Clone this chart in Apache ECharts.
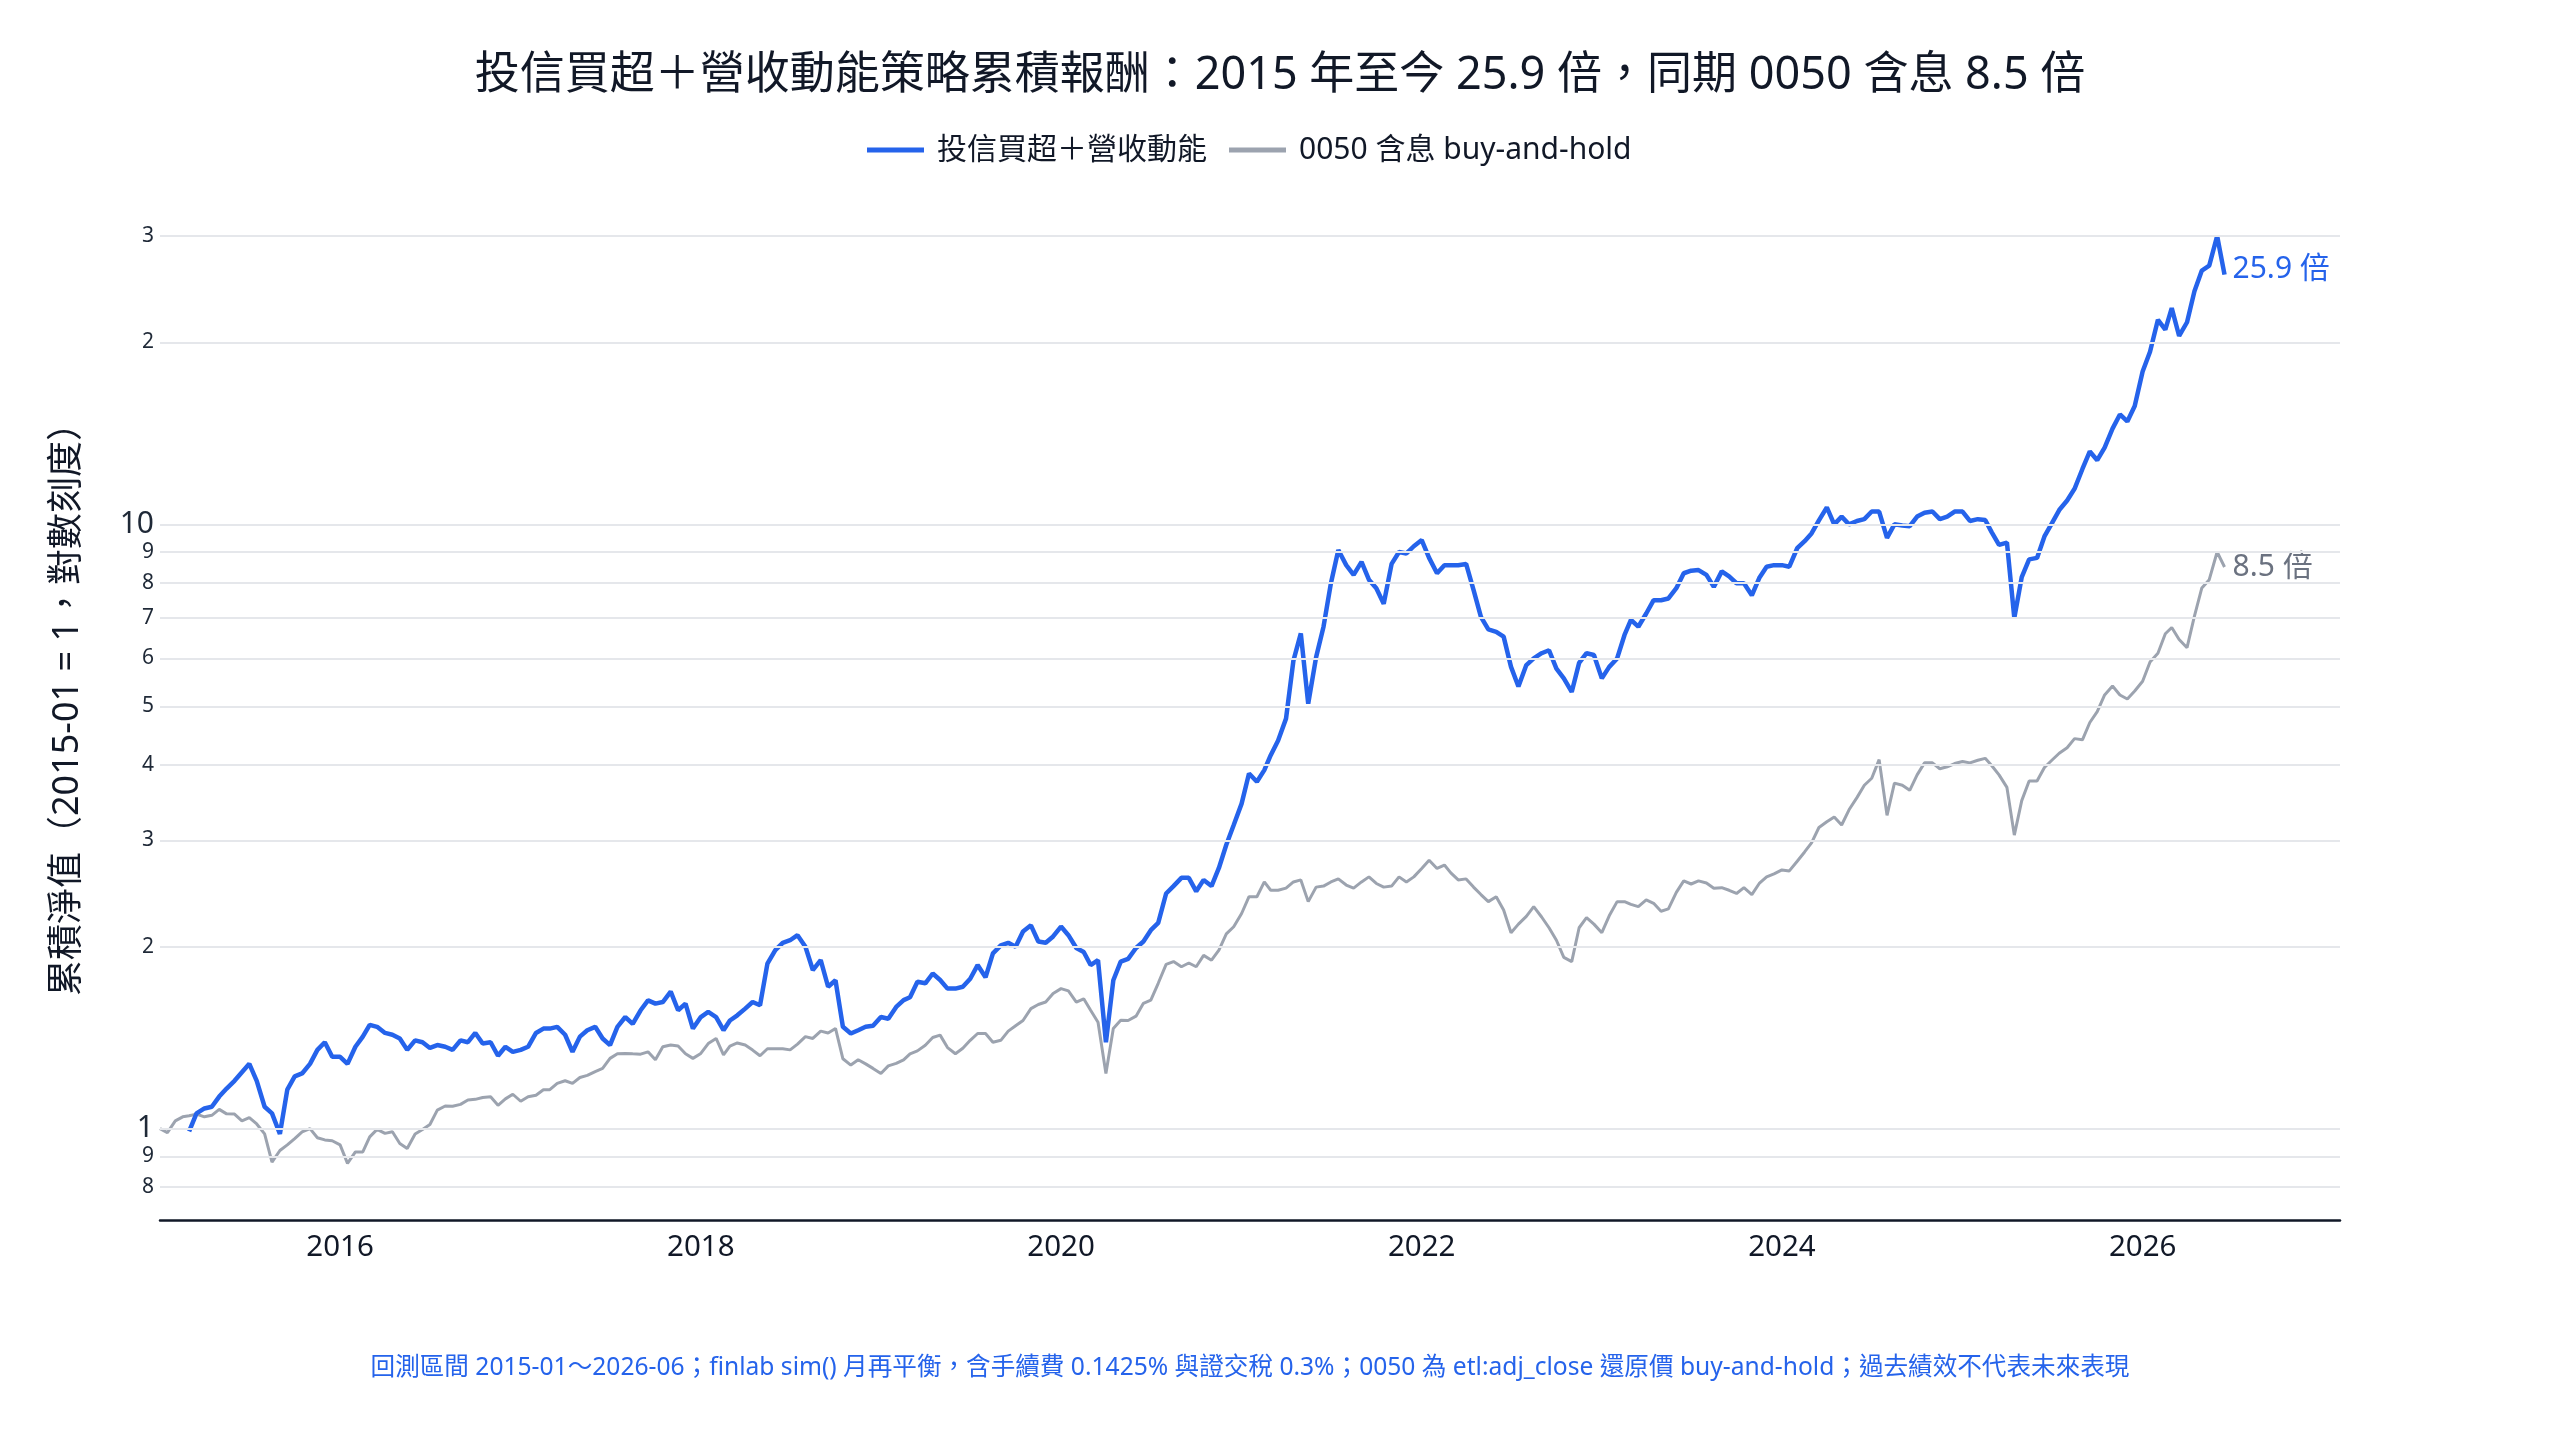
<!DOCTYPE html>
<html>
<head>
<meta charset="utf-8">
<script src="https://cdn.jsdelivr.net/npm/echarts@6/dist/echarts.min.js"></script>
<style>
html,body{margin:0;padding:0;background:#fff;}
#c{width:2560px;height:1440px;}
</style>
</head>
<body>
<div id="c"></div>
<script>
// semi-monthly observation dates (1st and 16th of each month), 2015-01 .. 2026-06
const startYear = 2015;
const pointCount = 276;

// 投信買超＋營收動能 cumulative NAV (null before strategy start)
const strategyNav = [
  null,null,null,null,0.99,1.06,1.08,1.087,1.13,1.165,1.20,1.24,1.28,1.20,1.087,1.06,0.98,1.16,1.22,1.234,1.28,1.35,1.39,1.315,
  1.315,1.28,1.366,1.42,1.485,1.474,1.44,1.43,1.41,1.35,1.40,1.39,1.36,1.375,1.366,1.35,1.40,1.39,1.44,1.383,1.39,1.32,1.366,1.34,
  1.35,1.366,1.44,1.464,1.464,1.474,1.43,1.34,1.42,1.455,1.474,1.41,1.375,1.474,1.53,1.49,1.57,1.63,1.61,1.62,1.685,1.57,1.61,1.464,
  1.53,1.56,1.53,1.455,1.51,1.54,1.58,1.62,1.60,1.875,1.975,2.03,2.05,2.09,2.0,1.83,1.90,1.717,1.76,1.474,1.437,1.455,1.474,1.48,
  1.53,1.52,1.59,1.632,1.65,1.75,1.74,1.806,1.762,1.705,1.705,1.717,1.77,1.865,1.78,1.95,2.01,2.03,2.0,2.12,2.17,2.04,2.03,2.08,
  2.16,2.09,1.99,1.96,1.865,1.90,1.39,1.76,1.89,1.91,1.99,2.04,2.13,2.19,2.45,2.52,2.6,2.6,2.47,2.58,2.52,2.7,2.95,3.18,
  3.45,3.87,3.75,3.92,4.15,4.39,4.77,5.95,6.6,5.05,6.03,6.77,7.99,9.07,8.56,8.25,8.67,8.1,7.84,7.39,8.6,9.0,8.95,9.2,
  9.42,8.8,8.3,8.56,8.56,8.56,8.6,7.79,7.03,6.7,6.64,6.52,5.81,5.39,5.85,6.0,6.12,6.19,5.77,5.56,5.28,5.9,6.12,6.08,
  5.56,5.81,6.0,6.56,6.95,6.77,7.12,7.49,7.49,7.54,7.84,8.3,8.38,8.4,8.25,7.88,8.36,8.2,7.99,7.99,7.63,8.15,8.51,8.56,
  8.56,8.51,9.13,9.38,9.66,10.15,10.67,10.0,10.3,10.0,10.13,10.2,10.5,10.5,9.5,10.0,9.96,9.93,10.3,10.45,10.5,10.2,10.3,10.5,
  10.5,10.13,10.2,10.17,9.71,9.25,9.33,7.0,8.18,8.75,8.8,9.55,10.04,10.56,10.95,11.45,12.35,13.2,12.77,13.4,14.4,15.2,14.8,15.7,
  17.9,19.3,21.8,21.0,22.8,20.5,21.6,24.3,26.3,26.8,30.0,25.9
];

// 0050 含息 buy-and-hold cumulative NAV
const benchmarkNav = [
  1.0,0.985,1.03,1.046,1.05,1.057,1.046,1.052,1.076,1.058,1.057,1.03,1.043,1.018,0.98,0.88,0.92,0.94,0.963,0.988,1.0,0.966,0.958,0.955,
  0.94,0.876,0.915,0.915,0.969,0.997,0.982,0.988,0.945,0.927,0.98,0.997,1.016,1.073,1.09,1.089,1.097,1.115,1.118,1.126,1.129,1.093,1.12,1.14,
  1.11,1.129,1.136,1.16,1.16,1.188,1.2,1.188,1.215,1.225,1.243,1.258,1.307,1.33,1.332,1.33,1.328,1.34,1.30,1.366,1.375,1.37,1.33,1.307,
  1.332,1.383,1.41,1.325,1.37,1.386,1.375,1.349,1.32,1.356,1.356,1.356,1.35,1.38,1.42,1.41,1.45,1.44,1.465,1.305,1.274,1.30,1.28,1.258,
  1.234,1.27,1.282,1.30,1.33,1.345,1.374,1.415,1.428,1.362,1.33,1.358,1.40,1.437,1.437,1.39,1.40,1.45,1.48,1.51,1.58,1.605,1.62,1.674,
  1.705,1.69,1.62,1.64,1.57,1.50,1.234,1.465,1.512,1.51,1.535,1.612,1.632,1.74,1.87,1.89,1.853,1.88,1.853,1.935,1.90,1.975,2.10,2.158,
  2.27,2.42,2.42,2.56,2.48,2.48,2.5,2.56,2.58,2.375,2.51,2.52,2.56,2.59,2.53,2.50,2.56,2.61,2.545,2.51,2.52,2.61,2.56,2.61,
  2.695,2.78,2.695,2.73,2.65,2.58,2.59,2.51,2.44,2.375,2.42,2.30,2.11,2.18,2.245,2.33,2.24,2.15,2.05,1.92,1.89,2.15,2.235,2.18,
  2.11,2.25,2.375,2.375,2.35,2.33,2.39,2.36,2.29,2.31,2.46,2.57,2.54,2.57,2.55,2.50,2.505,2.48,2.45,2.505,2.44,2.545,2.61,2.64,
  2.68,2.67,2.77,2.87,2.97,3.15,3.22,3.28,3.18,3.37,3.53,3.70,3.80,4.08,3.3,3.73,3.70,3.63,3.85,4.03,4.03,3.94,3.97,4.02,
  4.05,4.03,4.07,4.1,3.99,3.85,3.67,3.06,3.49,3.76,3.76,3.96,4.07,4.18,4.27,4.42,4.4,4.7,4.9,5.22,5.4,5.22,5.14,5.3,
  5.5,5.92,6.12,6.59,6.75,6.45,6.25,7.05,7.85,8.1,9.0,8.5
];

// y-axis gridline / tick values (log scale) and x-axis label years
const yTickValues = [0.8, 0.9, 1, 2, 3, 4, 5, 6, 7, 8, 9, 10, 20, 30];
const xTickYears = [2016, 2018, 2020, 2022, 2024, 2026];

const seriesNames = ['投信買超＋營收動能', '0050 含息 buy-and-hold'];
const titleText = '投信買超＋營收動能策略累積報酬：2015 年至今 25.9 倍，同期 0050 含息 8.5 倍';
const yAxisTitle = '累積淨值（2015-01 = 1，對數刻度）';
const footnote = '回測區間 2015-01～2026-06；finlab sim() 月再平衡，含手續費 0.1425% 與證交稅 0.3%；0050 為 etl:adj_close 還原價 buy-and-hold；過去績效不代表未來表現';

function pad(n){ return n < 10 ? '0' + n : '' + n; }
const dates = [];
for (let k = 0; k < pointCount; k++) {
  const y = startYear + Math.floor(k / 24);
  const m = Math.floor((k % 24) / 2) + 1;
  const d = (k % 2) ? 16 : 1;
  dates.push(y + '-' + pad(m) + '-' + pad(d));
}
function pairs(vals){
  const out = [];
  vals.forEach((v, i) => { if (v !== null) out.push([dates[i], v]); });
  return out;
}

const FONT = '"Noto Sans", "Noto Sans CJK TC", sans-serif';
const BLUE = '#2563eb';
const GRAY = '#9ca3af';
const INK = '#111827';

function yLabel(v){
  if (v === 1 || v === 10) return '{big|' + v + '}';
  if (v < 1) return String(Math.round(v * 10));
  if (v >= 20) return String(Math.round(v / 10));
  return String(v);
}

const yGridItems = yTickValues.map(v => ({ yAxis: v }));
const xLabelItems = xTickYears.map(y => ({
  xAxis: new Date(y, 0, 1).getTime(),
  name: String(y),
  lineStyle: { color: 'rgba(255,255,255,0)', width: 1 },
  label: {
    show: true,
    position: 'start',
    distance: 13,
    formatter: '{b}',
    fontSize: 29.5,
    color: INK,
    opacity: 1,
    fontFamily: FONT
  }
}));

const chart = echarts.init(document.getElementById('c'), null, {renderer: 'canvas'});
chart.setOption({
  animation: false,
  backgroundColor: '#ffffff',
  textStyle: { fontFamily: FONT },
  title: {
    text: titleText,
    left: 'center',
    top: 49,
    textStyle: { fontSize: 45, fontWeight: 'normal', color: INK, fontFamily: FONT }
  },
  legend: {
    data: seriesNames,
    left: 862,
    top: 130,
    icon: 'rect',
    itemWidth: 57,
    itemHeight: 5,
    itemGap: 22,
    textStyle: { fontSize: 30, color: INK, padding: [0, 0, 0, 8], fontFamily: FONT }
  },
  graphic: [{
    type: 'text',
    x: 1250,
    y: 1368,
    style: {
      text: footnote,
      fill: BLUE,
      fontSize: 24.6,
      fontFamily: FONT,
      textAlign: 'center',
      textVerticalAlign: 'middle'
    }
  }],
  grid: { left: 160, right: 220, top: 181, bottom: 220, containLabel: false },
  xAxis: {
    type: 'time',
    min: dates[0],
    max: '2027-02-05',
    axisLine: { show: true, lineStyle: { color: INK, width: 2.5 } },
    axisTick: { show: false },
    splitLine: { show: false },
    axisLabel: { show: false }
  },
  yAxis: {
    type: 'log',
    logBase: 10,
    min: 0.706,
    max: 37,
    name: yAxisTitle,
    nameLocation: 'middle',
    nameGap: 74,
    nameRotate: 90,
    nameTextStyle: { fontSize: 36, color: INK, fontFamily: FONT },
    axisLine: { show: false },
    axisTick: { show: false },
    axisLabel: { show: false },
    splitLine: { show: false }
  },
  series: [
    {
      name: '_grid',
      type: 'line',
      data: [[dates[0], 1]],
      symbol: 'none',
      lineStyle: { opacity: 0 },
      silent: true,
      clip: false,
      z: 1,
      markLine: {
        silent: true,
        symbol: ['none', 'none'],
        animation: false,
        lineStyle: { color: '#e5e7eb', width: 2, type: 'solid' },
        label: {
          show: true,
          position: 'start',
          distance: 6,
          formatter: p => yLabel(p.value),
          fontSize: 21,
          color: '#1f2937',
          fontFamily: FONT,
          rich: { big: { fontSize: 30, color: '#1f2937', fontFamily: FONT } }
        },
        emphasis: { disabled: true },
        data: yGridItems.concat(xLabelItems)
      }
    },
    {
      name: seriesNames[1],
      type: 'line',
      data: pairs(benchmarkNav),
      showSymbol: false,
      symbol: 'none',
      color: GRAY,
      lineStyle: { color: GRAY, width: 3 },
      z: 3,
      endLabel: {
        show: true,
        formatter: p => p.value[1].toFixed(1) + ' 倍',
        color: '#6b7280',
        fontSize: 30,
        distance: 8,
        fontFamily: FONT
      }
    },
    {
      name: seriesNames[0],
      type: 'line',
      data: pairs(strategyNav),
      showSymbol: false,
      symbol: 'none',
      color: BLUE,
      lineStyle: { color: BLUE, width: 4.5 },
      z: 4,
      endLabel: {
        show: true,
        formatter: p => p.value[1].toFixed(1) + ' 倍',
        color: BLUE,
        fontSize: 30,
        distance: 8,
        offset: [0, -5],
        fontFamily: FONT
      }
    }
  ]
});
</script>
</body>
</html>
